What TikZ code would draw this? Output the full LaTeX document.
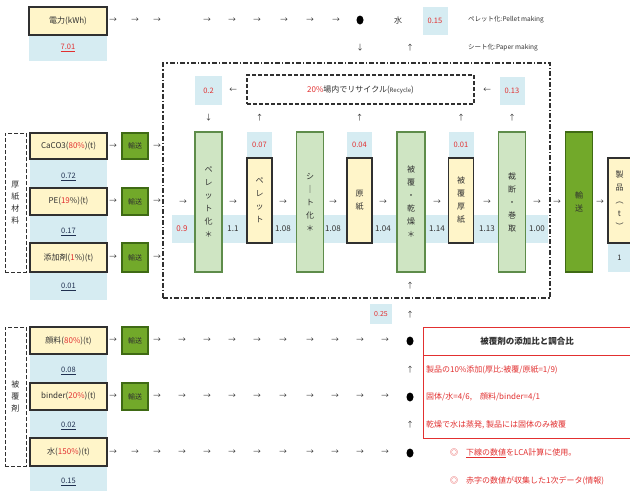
\documentclass[tikz,border=0pt]{standalone}
\usepackage{fontspec}
\setmainfont{Noto Sans CJK JP}
\usetikzlibrary{arrows.meta,shapes.geometric}
\definecolor{cream}{HTML}{FFF5C9}
\definecolor{pale}{HTML}{D6ECF2}
\definecolor{lgreen}{HTML}{CFE5C3}
\definecolor{gborder}{HTML}{5E8C4A}
\definecolor{dgreen}{HTML}{72A92A}
\definecolor{dgborder}{HTML}{3F6A14}
\definecolor{rd}{HTML}{E23030}
\definecolor{ink}{HTML}{303030}
\definecolor{navy}{HTML}{203050}
\begin{document}
\begin{tikzpicture}[x=1pt,y=-1pt,
  every node/.style={inner sep=0pt, text=ink},
  ft/.style={font=\fontsize{8}{9}\selectfont},
  sm/.style={font=\fontsize{6.5}{7}\selectfont},
  ybox/.style={draw=ink, line width=1.3pt, fill=cream, font=\fontsize{8}{9}\selectfont},
  vbox/.style={draw=ink, line width=1.3pt, fill=cream, align=center, font=\fontsize{8}{13}\selectfont, minimum width=25, minimum height=85},
  gcol/.style={draw=gborder, line width=1.1pt, fill=lgreen, align=center, font=\fontsize{8}{13}\selectfont, minimum width=27, minimum height=140},
  trans/.style={draw=dgborder, line width=1.1pt, fill=dgreen, font=\fontsize{7}{8}\selectfont, minimum width=26},
  bval/.style={fill=pale, font=\fontsize{7.5}{8}\selectfont},
  num/.style={font=\fontsize{7.5}{8}\selectfont, text=navy},
  gl/.style={font=\fontsize{7.5}{7}\selectfont},
  dotc/.style={ellipse, fill=black, minimum width=7, minimum height=9},
  grp/.style={draw=ink, dash pattern=on 4pt off 2pt, line width=1pt, minimum width=21, align=center, font=\fontsize{8}{12}\selectfont},
  rline/.style={anchor=west, font=\fontsize{8}{9}\selectfont, text=rd}
]
\useasboundingbox (0,0) rectangle (630,491);
\fill[white] (0,0) rectangle (630,491);

% ---------- top row ----------
\node[bval, minimum width=78, minimum height=25] (denv) at (68,48) {\textcolor{rd}{\underline{7.01}}};
\node[ybox, minimum width=78, minimum height=28] (den) at (68,21) {電力(kWh)};
\foreach \x [count=\i] in {113,135,157,207,232,257,284,310,336}
  \node[gl] (ta\i) at (\x,20) {→};
\node[dotc] (d0) at (360,20) {};
\node[ft] (mizu) at (398,20) {水};
\node[bval, minimum width=25, minimum height=28, text=rd] (mizuv) at (435,21) {0.15};
\node[sm, anchor=west] (lgp) at (468,20) {ペレット化:Pellet making};
\node[sm, anchor=west] (lgs) at (468,48) {シート化:Paper making};
\node[gl] (td1) at (360,48) {↓};
\node[gl] (tu1) at (410,48) {↑};

% ---------- process frame ----------
\node[draw=ink, dash pattern=on 5pt off 2pt on 1.5pt off 2pt, line width=1.1pt, minimum width=387, minimum height=235] (proc) at (356.5,180.5) {};
\node[draw=ink, dash pattern=on 4pt off 2pt, line width=1.1pt, minimum width=227, minimum height=29, ft] (rec) at (360.5,89.5) {\textcolor{rd}{20\%}場内でリサイクル({\fontsize{6}{7}\selectfont Recycle})};
\node[bval, minimum width=27, minimum height=29, text=rd] (r02) at (208.5,90.5) {0.2};
\node[gl] (la1) at (233,90) {←};
\node[gl] (la2) at (487,90) {←};
\node[bval, minimum width=25, minimum height=28, text=rd] (r013) at (512,91) {0.13};
\node[gl] (ad1) at (208.5,118) {↓};
\foreach \x [count=\i] in {259.5,359.5,461,512}
  \node[gl] (au\i) at (\x,118) {↑};

% band
\node[fill=pale, minimum width=376, minimum height=28] (band) at (360,229) {};

% columns
\node[gcol] (c1) at (208.5,202) {ペ\\レ\\ッ\\ト\\化\\＊};
\node[bval, minimum width=25, minimum height=26, text=rd] (v007) at (259.5,145) {0.07};
\node[vbox] (y1) at (259.5,200.5) {ペ\\レ\\ッ\\ト};
\node[gcol] (c2) at (310,202) {シ\\｜\\ト\\化\\＊};
\node[bval, minimum width=25, minimum height=26, text=rd] (v004) at (359.5,145) {0.04};
\node[vbox] (y2) at (359.5,200.5) {原\\紙};
\node[gcol, minimum width=28] (c3) at (411,202) {被\\覆\\・\\乾\\燥\\＊};
\node[bval, minimum width=25, minimum height=26, text=rd] (v001) at (461,145) {0.01};
\node[vbox] (y3) at (461,200.5) {被\\覆\\厚\\紙};
\node[gcol] (c4) at (512,202) {裁\\断\\・\\巻\\取};
\node[gcol, draw=dgborder, fill=dgreen] (c5) at (579,202) {輸\\送};
\node[bval, minimum width=23, minimum height=29] (prv) at (619.5,257.5) {1};
\node[vbox, minimum width=23] (y4) at (619.5,200.5) {製\\品\\︵\\t\\︶};

\node[ft, text=rd] (bn0) at (182,229) {0.9};
\foreach \x/\v [count=\i] in {233/1.1, 283/1.08, 333/1.08, 383/1.04, 437/1.14, 487/1.13, 537/1.00}
  \node[ft] (bn\i) at (\x,229) {\v};
\foreach \x [count=\i] in {183,233,283,333,383,437,487,537,557,600}
  \node[gl] (pa\i) at (\x,202) {→};

% ---------- base materials ----------
\node[fill=pale, minimum width=77, minimum height=167, anchor=north west] (lbg) at (30,133) {};
\node[grp, minimum height=139] (gz) at (15.5,202.5) {厚\\紙\\材\\料};
\node[ybox, minimum width=77, minimum height=26] (ca) at (68.5,146) {CaCO3(\textcolor{rd}{80\%})(t)};
\node[num] (cav) at (68.5,177) {\underline{0.72}};
\node[ybox, minimum width=77, minimum height=27] (pe) at (68.5,201.5) {PE(\textcolor{rd}{19}\%)(t)};
\node[num] (pev) at (68.5,232) {\underline{0.17}};
\node[ybox, minimum width=77, minimum height=29] (adv0) at (68.5,257.5) {添加剤(\textcolor{rd}{1}\%)(t)};
\node[num] (adv) at (68.5,287) {\underline{0.01}};
\node[trans, minimum height=26] (t1) at (135,146) {輸送};
\node[trans, minimum height=27] (t2) at (135,201.5) {輸送};
\node[trans, minimum height=29] (t3) at (135,257.5) {輸送};
\foreach \y [count=\i] in {146,201.5,257.5} {
  \node[gl] (lb\i) at (113,\y) {→};
  \node[gl] (lc\i) at (157,\y) {→};
}

% ---------- coating ----------
\node[fill=pale, minimum width=77, minimum height=164, anchor=north west] (cbg) at (30,327) {};
\node[grp, minimum height=139] (gc) at (15.5,396.5) {被\\覆\\剤};
\node[ybox, minimum width=77, minimum height=27] (pg) at (68.5,340.5) {顔料(\textcolor{rd}{80\%})(t)};
\node[num] (pgv) at (68.5,371) {\underline{0.08}};
\node[ybox, minimum width=77, minimum height=27] (bd) at (68.5,396.5) {binder(\textcolor{rd}{20\%})(t)};
\node[num] (bdv) at (68.5,426) {\underline{0.02}};
\node[ybox, minimum width=77, minimum height=28] (wt) at (68.5,452) {水(\textcolor{rd}{150\%})(t)};
\node[num] (wtv) at (68.5,482) {\underline{0.15}};
\node[trans, minimum height=27] (t4) at (135,340.5) {輸送};
\node[trans, minimum height=27] (t5) at (135,396.5) {輸送};
\foreach \x [count=\i] in {113,157,182,207,232,257,283,310,335,360,385} {
  \node[gl] (ra\i) at (\x,340.5) {→};
  \node[gl] (rb\i) at (\x,396.5) {→};
}
\foreach \x [count=\i] in {113,135,157,182,207,232,257,283,310,335,360,385}
  \node[gl] (rc\i) at (\x,452) {→};
\node[dotc] (d1) at (410,341) {};
\node[dotc] (d2) at (410,397) {};
\node[dotc] (d3) at (410,453) {};
\node[gl] (cu1) at (410,370) {↑};
\node[gl] (cu2) at (410,425) {↑};
\node[gl] (cu3) at (410,315) {↑};
\node[gl] (cu4) at (410,286) {↑};
\node[bval, minimum width=22, minimum height=20, text=rd, font=\fontsize{7}{7}\selectfont] (v025) at (381,314) {0.25};

% ---------- note box ----------
\node[draw=rd, line width=1pt, minimum width=208, minimum height=111, anchor=north west] (note) at (423,327) {};
\draw[rd, line width=0.9pt] (note.west |- 0,355) -- (note.east |- 0,355);
\node[font=\bfseries\fontsize{8.5}{9}\selectfont] (nh) at (527,341) {被覆剤の添加比と調合比};
\node[rline] (n1) at (426,370) {製品の10\%添加(厚比:被覆/原紙=1/9)};
\node[rline] (n2) at (426,397) {固体/水=4/6,\quad 顔料/binder=4/1};
\node[rline] (n3) at (426,425) {乾燥で水は蒸発, 製品には固体のみ被覆};
\node[rline] (m1) at (450,453) {◎\quad\underline{下線の数値}をLCA計算に使用。};
\node[rline] (m2) at (450,481) {◎\quad 赤字の数値が収集した1次データ(情報)};
\end{tikzpicture}
\end{document}
